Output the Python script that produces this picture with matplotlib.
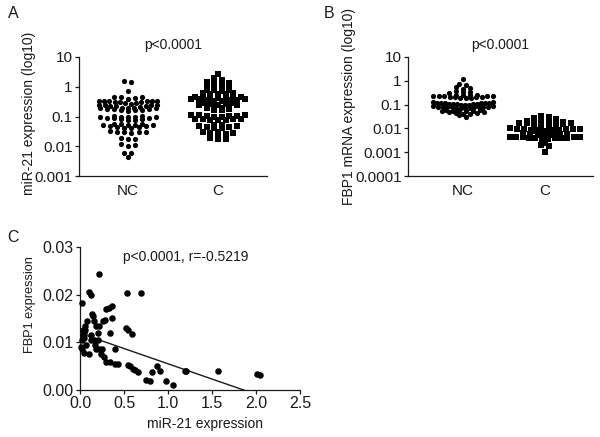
import numpy as np
import matplotlib
matplotlib.use("Agg")
import matplotlib.pyplot as plt

plt.rcParams['font.family'] = ['Liberation Sans', 'DejaVu Sans']

# ---------------- data ----------------
groups = ["NC", "C"]

# Panel A: miR-21 expression
mir21_nc = [1.55, 1.5, 0.7,
            0.46, 0.44, 0.42, 0.40, 0.45,
            0.34, 0.34, 0.33, 0.33, 0.32, 0.32, 0.31, 0.31, 0.30, 0.29, 0.28, 0.27,
            0.25, 0.25, 0.24, 0.24, 0.23, 0.23, 0.22, 0.215,
            0.20, 0.20, 0.195, 0.19, 0.19, 0.185, 0.18, 0.175, 0.17, 0.165, 0.16, 0.15,
            0.105, 0.105, 0.10, 0.10, 0.098, 0.096, 0.094, 0.092, 0.09, 0.088, 0.085, 0.082, 0.078, 0.075,
            0.055, 0.055, 0.054, 0.053, 0.052, 0.051, 0.05, 0.049, 0.048, 0.046, 0.044, 0.042, 0.04,
            0.032, 0.031, 0.030, 0.030, 0.029, 0.028,
            0.019, 0.018, 0.017, 0.012, 0.011, 0.0105, 0.006, 0.0058, 0.0045]
mir21_c = [2.6,
           1.9, 1.7,
           1.4, 1.35, 1.3, 1.25,
           1.1, 1.05, 1.0, 0.95,
           0.8, 0.78, 0.75, 0.7,
           0.62, 0.6, 0.58, 0.56, 0.55,
           0.47, 0.46, 0.45, 0.44, 0.43, 0.42, 0.41, 0.40, 0.39, 0.38, 0.37, 0.36, 0.35, 0.34, 0.33,
           0.29, 0.28, 0.27, 0.26, 0.25, 0.24, 0.235, 0.23, 0.22, 0.21, 0.20, 0.19, 0.18, 0.17, 0.16,
           0.115, 0.112, 0.11, 0.108, 0.105, 0.102, 0.10, 0.098,
           0.085, 0.083, 0.081, 0.08, 0.078, 0.076, 0.074,
           0.052, 0.05, 0.048, 0.047, 0.046, 0.044, 0.042, 0.04,
           0.031, 0.03, 0.028, 0.027, 0.026, 0.025,
           0.019, 0.018, 0.018]

# Panel B: FBP1 mRNA expression
fbp1_nc = [1.15,
           0.75, 0.65, 0.55, 0.5, 0.45,
           0.36, 0.34, 0.33, 0.31,
           0.26, 0.255, 0.25, 0.245, 0.24, 0.235, 0.23, 0.225, 0.22, 0.215, 0.21, 0.205, 0.20, 0.195, 0.19, 0.185,
           0.125, 0.123, 0.121, 0.12, 0.118, 0.116, 0.114, 0.112, 0.11, 0.108, 0.106, 0.104, 0.102, 0.10, 0.097, 0.095,
           0.085, 0.084, 0.083, 0.082, 0.081, 0.08, 0.079, 0.078, 0.077, 0.076, 0.075, 0.074, 0.072, 0.07,
           0.058, 0.057, 0.056, 0.055, 0.054, 0.053, 0.052, 0.05, 0.048, 0.046, 0.044, 0.042, 0.04, 0.035,
           0.03]
fbp1_c = [0.034, 0.031, 0.028, 0.026, 0.025, 0.023,
          0.0195, 0.019, 0.0188, 0.0185, 0.018, 0.0178, 0.0175, 0.017, 0.0165, 0.016, 0.0155, 0.015, 0.0145, 0.014,
          0.0108, 0.0106, 0.0104, 0.0102, 0.010, 0.0098, 0.0096, 0.0094, 0.0092, 0.009, 0.0088, 0.0086, 0.0084, 0.0082, 0.008, 0.0075,
          0.0065, 0.0064, 0.0063, 0.0062, 0.006, 0.0058, 0.0056, 0.0054, 0.0052, 0.005,
          0.0045, 0.0044, 0.0043, 0.0042, 0.0042, 0.0041, 0.004, 0.004, 0.0039, 0.0038, 0.0037, 0.0036,
          0.0025, 0.0021, 0.0018, 0.00105]

# Panel C: correlation
corr_mir21 = [0.02, 0.03, 0.03, 0.02, 0.04, 0.05, 0.01, 0.02, 0.04, 0.06, 0.06, 0.07, 0.08, 0.10, 0.13,
              0.10, 0.12, 0.12, 0.14, 0.15, 0.16, 0.18, 0.16, 0.17, 0.18, 0.20, 0.20, 0.22, 0.22, 0.22,
              0.24, 0.25, 0.26, 0.28, 0.27, 0.30, 0.30, 0.33, 0.36, 0.36, 0.34, 0.34, 0.40, 0.40, 0.43,
              0.53, 0.69, 0.52, 0.55, 0.59, 0.54, 0.57, 0.60, 0.63, 0.66, 0.75, 0.80, 0.82, 0.87, 0.91,
              0.98, 1.06, 1.19, 1.21, 1.57, 2.01, 2.05]
corr_fbp1 = [0.0183, 0.0125, 0.0115, 0.0105, 0.0120, 0.0110, 0.0090, 0.0085, 0.0078, 0.0125, 0.0135, 0.0095,
             0.0145, 0.0205, 0.0200, 0.0075, 0.0115, 0.0105, 0.0160, 0.0155, 0.0145, 0.0135, 0.0105, 0.0095,
             0.0085, 0.0105, 0.0120, 0.0243, 0.0135, 0.0085, 0.0075, 0.0085, 0.0145, 0.0147, 0.0070, 0.0058,
             0.0170, 0.0172, 0.0177, 0.0152, 0.0120, 0.0059, 0.0085, 0.0055, 0.0055, 0.0203, 0.0203, 0.0130,
             0.0125, 0.0117, 0.0052, 0.0050, 0.0045, 0.0042, 0.0038, 0.0022, 0.0018, 0.0037, 0.0051, 0.0039,
             0.0018, 0.0010, 0.0039, 0.0039, 0.0039, 0.0033, 0.0032]
fit_intercept = 0.0119
fit_slope = -0.0064

# ---------------- helpers ----------------
def swarm_x(values, center, wide, maxw, thr):
    v = np.asarray(values, dtype=float)
    order = np.argsort(v)
    lv = np.log10(v)
    xs = np.zeros_like(v)
    rows, cur, start = [], [], None
    for i in order:
        if start is None or lv[i] - start > thr:
            if cur:
                rows.append(cur)
            cur, start = [i], lv[i]
        else:
            cur.append(i)
    if cur:
        rows.append(cur)
    for row in rows:
        n = len(row)
        sp = wide if n < 2 else min(wide, maxw / (n - 1))
        slots = []
        if n % 2 == 1:
            slots.append(0.0)
            k = 1
        else:
            k = 0.5
        while len(slots) < n:
            slots += [k, -k]
            k += 1
        slots = slots[:n]
        for idx, s in zip(row, slots):
            xs[idx] = center + s * sp
    return xs


TXT = "#1a1a1a"
FS = 10


def style_axes(ax):
    for s in ["top", "right"]:
        ax.spines[s].set_visible(False)
    for s in ["left", "bottom"]:
        ax.spines[s].set_linewidth(0.9)
        ax.spines[s].set_color(TXT)
    ax.tick_params(direction="out", length=3, width=0.9, colors=TXT,
                   labelsize=11, labelcolor=TXT, pad=1.5)
    ax.minorticks_off()


fig = plt.figure(figsize=(6.0, 4.37), dpi=100)

# ---------------- Panel A ----------------
axA = fig.add_axes([79/600, 1-176/437, (267-79)/600, (176-57)/437])
axA.set_yscale("log")
axA.scatter(swarm_x(mir21_nc, 0, 0.078, 0.65, 0.11), mir21_nc, s=14, marker="o", color="black", linewidths=0)
axA.scatter(swarm_x(mir21_c, 1, 0.085, 0.8, 0.09), mir21_c, s=14, marker="s", color="black", linewidths=0)
axA.set_xlim(-0.544, 1.544)
axA.set_ylim(0.001, 10)
axA.set_yticks([0.001, 0.01, 0.1, 1, 10])
axA.set_yticklabels(["0.001", "0.01", "0.1", "1", "10"])
axA.set_xticks([0, 1])
axA.set_xticklabels(groups)
style_axes(axA)
axA.tick_params(axis="x", length=0, pad=6)
axA.minorticks_off()
axA.set_ylabel("miR-21 expression (log10)", fontsize=FS, color=TXT)
axA.yaxis.set_label_coords(-0.229, 0.53)
axA.set_title("p<0.0001", fontsize=FS, color=TXT, pad=6)

# ---------------- Panel B ----------------
axB = fig.add_axes([408/600, 1-176/437, (593-408)/600, (176-57)/437])
axB.set_yscale("log")
axB.scatter(swarm_x(fbp1_nc, 0, 0.085, 0.72, 0.12), fbp1_nc, s=14, marker="o", color="black", linewidths=0)
axB.scatter(swarm_x(fbp1_c, 1, 0.09, 0.85, 0.1), fbp1_c, s=14, marker="s", color="black", linewidths=0)
axB.set_xlim(-0.67, 1.585)
axB.set_ylim(0.0001, 10)
axB.set_yticks([0.0001, 0.001, 0.01, 0.1, 1, 10])
axB.set_yticklabels(["0.0001", "0.001", "0.01", "0.1", "1", "10"])
axB.set_xticks([0, 1])
axB.set_xticklabels(groups)
style_axes(axB)
axB.tick_params(axis="x", length=0, pad=6)
axB.minorticks_off()
axB.set_ylabel("FBP1 mRNA expression (log10)", fontsize=FS, color=TXT)
axB.yaxis.set_label_coords(-0.283, 0.585)
axB.set_title("p<0.0001", fontsize=FS, color=TXT, pad=6)

# ---------------- Panel C ----------------
axC = fig.add_axes([80/600, 1-390/437, (300-80)/600, (390-247)/437])
axC.scatter(corr_mir21, corr_fbp1, s=22, marker="o", color="black", linewidths=0, clip_on=False, zorder=3)
fx = np.array([0.0, max(corr_mir21)])
axC.plot(fx, fit_intercept + fit_slope * fx, color=TXT, lw=1.0)
axC.set_xlim(0, 2.5)
axC.set_ylim(0, 0.03)
axC.set_xticks([0, 0.5, 1.0, 1.5, 2.0, 2.5])
axC.set_xticklabels(["0.0", "0.5", "1.0", "1.5", "2.0", "2.5"])
axC.set_yticks([0, 0.01, 0.02, 0.03])
axC.set_yticklabels(["0.00", "0.01", "0.02", "0.03"])
style_axes(axC)
axC.tick_params(labelsize=11.5)
axC.set_xlabel("miR-21 expression", fontsize=FS, color=TXT)
axC.xaxis.set_label_coords(0.57, -0.19)
axC.set_ylabel("FBP1 expression", fontsize=9.2, color=TXT)
axC.yaxis.set_label_coords(-0.20, 0.6)
axC.text(0.48, 0.93, "p<0.0001, r=-0.5219", transform=axC.transAxes,
         ha="center", va="center", fontsize=FS, color=TXT)

# panel letters
fig.text(13/600, 1-13/437, "A", fontsize=11.5, ha="center", va="center", color=TXT)
fig.text(329/600, 1-13/437, "B", fontsize=11.5, ha="center", va="center", color=TXT)
fig.text(12.5/600, 1-238/437, "C", fontsize=11.5, ha="center", va="center", color=TXT)

fig.savefig("out.png", dpi=100)
